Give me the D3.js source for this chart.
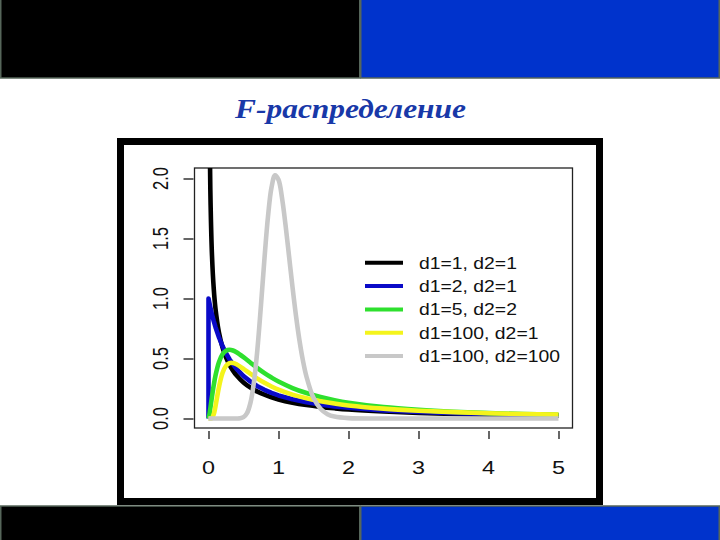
<!DOCTYPE html>
<html>
<head>
<meta charset="utf-8">
<script src="https://cdn.jsdelivr.net/npm/d3@7/dist/d3.min.js"></script>
<style>
  html, body { margin: 0; padding: 0; background: #fff; }
  svg { display: block; }
</style>
</head>
<body>
<script>
// ---------------- data ----------------
const titleText = "F-распределение";
const seriesNames = ["d1=1, d2=1", "d1=2, d2=1", "d1=5, d2=2", "d1=100, d2=1", "d1=100, d2=100"];
const seriesColors = ["#000000", "#0a0ac8", "#2ee02e", "#f4f41c", "#c8c8c8"];
const xTicks = [0, 1, 2, 3, 4, 5];
const xTickLabels = ["0", "1", "2", "3", "4", "5"];
const yTicks = [0, 0.5, 1, 1.5, 2];
const yTickLabels = ["0.0", "0.5", "1.0", "1.5", "2.0"];

// sample positions for the first four curves
const xMain = [0, 0.01, 0.02, 0.03, 0.05, 0.075, 0.1, 0.15, 0.2, 0.25, 0.3, 0.35, 0.4, 0.5, 0.6, 0.7, 0.8, 0.9, 1.0, 1.2, 1.4, 1.6, 1.8, 2.0, 2.5, 3, 3.5, 4, 4.5, 5];
const blackY = [null, 3.152, 2.207, 1.784, 1.356, 1.081, 0.915, 0.715, 0.593, 0.509, 0.447, 0.399, 0.360, 0.300, 0.257, 0.224, 0.198, 0.177, 0.159, 0.132, 0.112, 0.097, 0.085, 0.075, 0.058, 0.046, 0.038, 0.032, 0.027, 0.024];
const blueX = [0, 0, 0.01, 0.02, 0.03, 0.05, 0.075, 0.1, 0.15, 0.2, 0.25, 0.3, 0.35, 0.4, 0.5, 0.6, 0.7, 0.8, 0.9, 1.0, 1.2, 1.4, 1.6, 1.8, 2.0, 2.5, 3, 3.5, 4, 4.5, 5];
const blueY = [0, 1, 0.971, 0.943, 0.916, 0.867, 0.811, 0.761, 0.675, 0.604, 0.544, 0.494, 0.451, 0.414, 0.354, 0.307, 0.269, 0.239, 0.213, 0.192, 0.160, 0.135, 0.116, 0.101, 0.089, 0.068, 0.054, 0.044, 0.037, 0.032, 0.027];
const greenY = [0, 0.023, 0.059, 0.100, 0.183, 0.278, 0.358, 0.471, 0.535, 0.565, 0.573, 0.567, 0.552, 0.511, 0.465, 0.420, 0.378, 0.341, 0.308, 0.254, 0.212, 0.179, 0.153, 0.132, 0.095, 0.072, 0.056, 0.045, 0.037, 0.031];
const yellowY = [0, 0, 0, 0, 0.004, 0.035, 0.102, 0.263, 0.379, 0.439, 0.462, 0.463, 0.452, 0.414, 0.372, 0.332, 0.297, 0.267, 0.241, 0.199, 0.168, 0.144, 0.125, 0.109, 0.082, 0.065, 0.053, 0.044, 0.037, 0.032];
const greyX = [0, 0.3, 0.4, 0.45, 0.5, 0.55, 0.6, 0.65, 0.7, 0.75, 0.8, 0.85, 0.9, 0.95, 1.0, 1.05, 1.1, 1.15, 1.2, 1.25, 1.3, 1.35, 1.4, 1.5, 1.6, 1.7, 1.8, 2.0, 2.5, 3, 4, 5];
const greyY = [0, 0, 0.0002, 0.0019, 0.011, 0.044, 0.132, 0.306, 0.585, 0.947, 1.336, 1.683, 1.925, 2.027, 1.990, 1.839, 1.614, 1.356, 1.095, 0.855, 0.649, 0.480, 0.348, 0.172, 0.081, 0.036, 0.016, 0.003, 0, 0, 0, 0];

// ---------------- drawing ----------------
const W = 720, H = 540;
const svg = d3.select("body").append("svg").attr("width", W).attr("height", H);
svg.append("rect").attr("width", W).attr("height", H).attr("fill", "#ffffff");

// slide decoration bars
const barStroke = "#56665a";
svg.append("rect").attr("x", 0.75).attr("y", -1).attr("width", 359).attr("height", 79).attr("fill", "#000").attr("stroke", barStroke).attr("stroke-width", 1.5);
svg.append("rect").attr("x", 360.75).attr("y", -1).attr("width", 358.5).attr("height", 79).attr("fill", "#0033cc").attr("stroke", barStroke).attr("stroke-width", 1.5);
svg.append("rect").attr("x", 0.75).attr("y", 506).attr("width", 359).attr("height", 35).attr("fill", "#000").attr("stroke", barStroke).attr("stroke-width", 1.5);
svg.append("rect").attr("x", 360.75).attr("y", 506).attr("width", 358.5).attr("height", 35).attr("fill", "#0033cc").attr("stroke", barStroke).attr("stroke-width", 1.5);

// title
svg.append("text")
  .attr("x", 350.5).attr("y", 118)
  .attr("text-anchor", "middle")
  .attr("font-family", "'Liberation Serif', 'Times New Roman', serif")
  .attr("font-weight", "bold").attr("font-style", "italic")
  .attr("font-size", 27)
  .attr("textLength", 231).attr("lengthAdjust", "spacingAndGlyphs")
  .attr("fill", "#1838a8")
  .text(titleText);

// chart frame
svg.append("rect").attr("x", 120.5).attr("y", 141.5).attr("width", 479).attr("height", 360)
  .attr("fill", "#fff").attr("stroke", "#000").attr("stroke-width", 7);

// scales
const x = d3.scaleLinear().domain([0, 5]).range([208.5, 558.5]);
const y = d3.scaleLinear().domain([0, 2]).range([418.5, 178.5]);
const box = { x0: 194.5, x1: 572.5, y0: 168, y1: 428 };
const fontSans = "'Liberation Sans', Arial, Helvetica, sans-serif";

svg.append("defs").append("clipPath").attr("id", "plotclip")
  .append("rect").attr("x", box.x0).attr("y", box.y0).attr("width", box.x1 - box.x0).attr("height", box.y1 - box.y0);

// x axis (ticks only, no axis line)
const xAxisG = svg.append("g").attr("transform", "translate(0,431)")
  .call(d3.axisBottom(x).tickValues(xTicks).tickSize(8).tickFormat(() => ""));
xAxisG.select(".domain").remove();
xAxisG.selectAll(".tick line").attr("stroke", "#000").attr("stroke-width", 1.2);
xTicks.forEach((t, i) => {
  svg.append("text")
    .attr("transform", `translate(${x(t)},473.5) scale(1.3,1)`)
    .attr("text-anchor", "middle")
    .attr("font-family", fontSans).attr("font-size", 18).attr("fill", "#111")
    .text(xTickLabels[i]);
});

// y axis
const yAxisG = svg.append("g").attr("transform", "translate(193.5,0)")
  .call(d3.axisLeft(y).tickValues(yTicks).tickSize(10).tickFormat(() => ""));
yAxisG.select(".domain").remove();
yAxisG.selectAll(".tick line").attr("stroke", "#000").attr("stroke-width", 1.2);
yTicks.forEach((t, i) => {
  svg.append("text")
    .attr("transform", `translate(167.5,${y(t)}) scale(1.38,1) rotate(-90)`)
    .attr("text-anchor", "middle")
    .attr("font-family", fontSans).attr("font-size", 16.5).attr("fill", "#111")
    .text(yTickLabels[i]);
});

// plot box
svg.append("rect").attr("x", box.x0).attr("y", box.y0).attr("width", box.x1 - box.x0).attr("height", box.y1 - box.y0)
  .attr("fill", "none").attr("stroke", "#222").attr("stroke-width", 1.3);

// curves
const curves = [
  { xs: xMain, ys: blackY, smooth: true },
  { xs: blueX, ys: blueY, smooth: false },
  { xs: xMain, ys: greenY, smooth: true },
  { xs: xMain, ys: yellowY, smooth: true },
  { xs: greyX, ys: greyY, smooth: true }
];
const plotG = svg.append("g").attr("clip-path", "url(#plotclip)");
curves.forEach((c, i) => {
  const line = d3.line()
    .defined(d => d[1] !== null)
    .x(d => x(d[0])).y(d => y(d[1]))
    .curve(c.smooth ? d3.curveCatmullRom.alpha(0.5) : d3.curveLinear);
  const pts = c.xs.map((v, j) => [v, c.ys[j]]);
  plotG.append("path").attr("d", line(pts))
    .attr("fill", "none").attr("stroke", seriesColors[i])
    .attr("stroke-width", 4.6).attr("stroke-linejoin", "round").attr("stroke-linecap", "butt");
});

// legend
const legY0 = 262.8, legDY = 23.3;
seriesNames.forEach((name, i) => {
  const ly = legY0 + i * legDY;
  svg.append("line").attr("x1", 365).attr("x2", 403).attr("y1", ly).attr("y2", ly)
    .attr("stroke", seriesColors[i]).attr("stroke-width", 4);
  svg.append("text")
    .attr("transform", `translate(419,${ly + 6}) scale(1.21,1)`)
    .attr("font-family", fontSans).attr("font-size", 16).attr("fill", "#111")
    .text(name);
});
</script>
</body>
</html>
